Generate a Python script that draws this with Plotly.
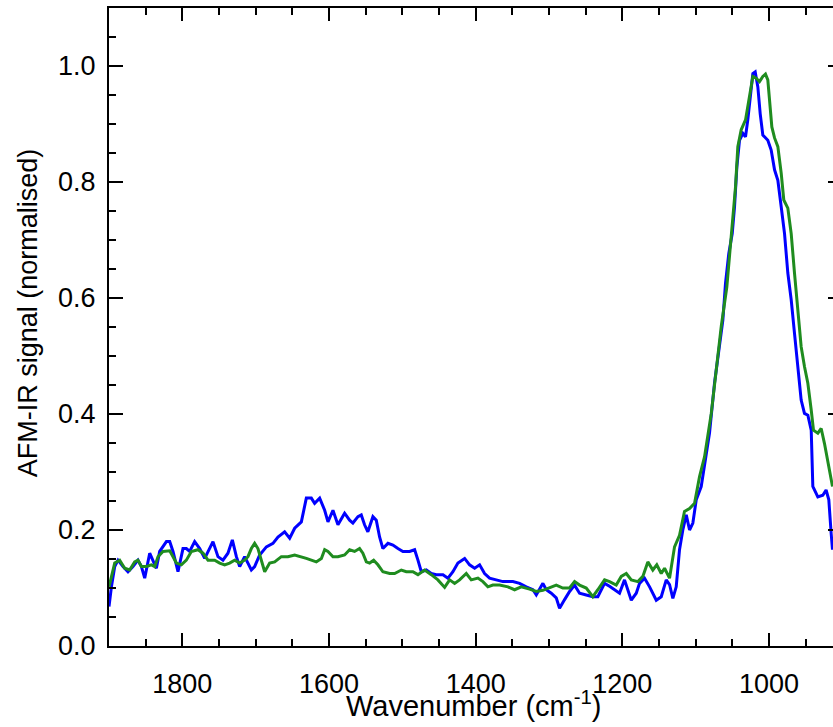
import plotly.graph_objects as go

# Wavenumber (cm^-1) and normalised AFM-IR signal
blue_wn = [1900, 1896.7, 1892.2, 1887.7, 1880.9, 1874.1, 1867.3, 1860.5, 1855.8, 1851.3,
           1844.5, 1840, 1835.4, 1830.9, 1821.7, 1817.2, 1812.7, 1805.9, 1799.1, 1794.5,
           1790, 1783.2, 1776.3, 1769.5, 1758.2, 1751.4, 1744.6, 1737.8, 1731.8, 1726.3,
           1721.8, 1715, 1705.9, 1701.4, 1694.6, 1685.4, 1676.4, 1669.6, 1660.5, 1653.6,
           1646.8, 1637.7, 1630.9, 1624.1, 1619.6, 1612.7, 1605.9, 1601.4, 1594.6, 1587.8,
           1578.7, 1571.9, 1567.4, 1560.5, 1556, 1551.5, 1547, 1540.1, 1535.5, 1531,
           1526.5, 1519.6, 1512.8, 1506, 1499.2, 1490.1, 1483.2, 1478.7, 1474.1, 1467.3,
           1460.5, 1453.7, 1444.6, 1437.8, 1431, 1424.2, 1415, 1408.3, 1401.4, 1394.6,
           1387.8, 1381, 1371.8, 1362.9, 1349.2, 1340.1, 1331, 1321.9, 1317.3, 1312.8,
           1308.3, 1303.7, 1296.9, 1290.1, 1285.6, 1278.7, 1271.9, 1265.1, 1258.3, 1249.2,
           1240.2, 1233.4, 1224.2, 1217.4, 1210.6, 1203.8, 1197, 1192.4, 1187.8, 1181,
           1176.5, 1169.7, 1162.8, 1153.7, 1146.9, 1140.1, 1135.6, 1131.1, 1126.5, 1122,
           1117.5, 1112.8, 1108.3, 1103.8, 1099.2, 1092.4, 1087.9, 1081.1, 1074.3, 1067.5,
           1062.9, 1059.3, 1054.8, 1050.1, 1047, 1043.8, 1040.2, 1035.6, 1032, 1028.9,
           1025.2, 1022, 1018.8, 1015.2, 1012, 1008.4, 1001.6, 997, 992.4, 987.9,
           983.3, 978.8, 974.3, 969.7, 965.2, 960.6, 956.1, 951.6, 947, 942.4,
           940.2, 933.4, 926.6, 922.1, 918.4, 915.2, 913.4]
blue_sig = [0.068, 0.102, 0.137, 0.148, 0.137, 0.128, 0.137, 0.148, 0.137, 0.117,
            0.160, 0.148, 0.134, 0.163, 0.180, 0.180, 0.163, 0.128, 0.168, 0.168,
            0.163, 0.180, 0.168, 0.151, 0.180, 0.154, 0.148, 0.160, 0.183, 0.154,
            0.137, 0.154, 0.131, 0.137, 0.157, 0.171, 0.177, 0.188, 0.197, 0.186,
            0.203, 0.214, 0.255, 0.255, 0.246, 0.255, 0.234, 0.214, 0.234, 0.209,
            0.229, 0.217, 0.212, 0.223, 0.226, 0.209, 0.197, 0.223, 0.217, 0.188,
            0.168, 0.177, 0.174, 0.168, 0.163, 0.163, 0.166, 0.148, 0.128, 0.131,
            0.125, 0.123, 0.123, 0.117, 0.128, 0.143, 0.151, 0.140, 0.134, 0.140,
            0.125, 0.117, 0.114, 0.111, 0.111, 0.108, 0.102, 0.097, 0.088, 0.097,
            0.108, 0.097, 0.091, 0.083, 0.065, 0.080, 0.094, 0.105, 0.091, 0.088,
            0.085, 0.085, 0.108, 0.103, 0.097, 0.091, 0.114, 0.097, 0.079, 0.091,
            0.108, 0.117, 0.102, 0.079, 0.085, 0.114, 0.106, 0.082, 0.102, 0.166,
            0.200, 0.226, 0.200, 0.212, 0.252, 0.275, 0.309, 0.367, 0.453, 0.516,
            0.562, 0.625, 0.677, 0.711, 0.757, 0.826, 0.872, 0.884, 0.878, 0.907,
            0.947, 0.987, 0.990, 0.964, 0.918, 0.881, 0.872, 0.855, 0.821, 0.803,
            0.757, 0.711, 0.643, 0.597, 0.539, 0.482, 0.424, 0.401, 0.398, 0.372,
            0.275, 0.257, 0.260, 0.269, 0.252, 0.194, 0.166]

green_wn = [1900, 1896.7, 1892.2, 1885.4, 1878.6, 1871.8, 1865, 1860.5, 1855.8, 1849,
            1842.2, 1837.7, 1833.2, 1826.4, 1817.2, 1812.7, 1808.1, 1801.3, 1794.5, 1787.7,
            1778.7, 1771.8, 1765, 1755.9, 1749.1, 1742.3, 1735.5, 1728.7, 1721.8, 1715,
            1710.5, 1705.9, 1701.4, 1696.9, 1692.2, 1687.7, 1680.9, 1674.1, 1665, 1656,
            1646.8, 1637.7, 1630.9, 1624.1, 1617.3, 1610.4, 1605.9, 1601.4, 1594.6, 1587.8,
            1578.7, 1571.9, 1565.1, 1558.3, 1553.8, 1549.1, 1544.6, 1539.1, 1533.3, 1526.5,
            1517.3, 1510.5, 1501.4, 1494.6, 1485.6, 1478.7, 1469.6, 1460.5, 1451.5, 1442.3,
            1435.5, 1428.7, 1421.9, 1412.8, 1406, 1396.9, 1390.1, 1383.3, 1376.5, 1367.4,
            1356, 1346.9, 1337.8, 1326.5, 1317.3, 1308.3, 1299.2, 1290.1, 1281.1, 1271.9,
            1265.1, 1258.3, 1249.2, 1240.2, 1233.4, 1224.2, 1217.4, 1208.3, 1201.4, 1194.6,
            1187.8, 1178.8, 1172, 1165.2, 1158.4, 1153, 1146.9, 1142.4, 1135.6, 1128.8,
            1122, 1115.2, 1108.3, 1101.5, 1094.7, 1087.9, 1078.7, 1071.9, 1065.1, 1057.5,
            1051.5, 1045.6, 1042.5, 1037.9, 1032, 1028.9, 1025.2, 1022, 1017.4, 1012.9,
            1008.4, 1004.8, 1001.6, 999.3, 996.1, 992.4, 987.9, 983.3, 979.8, 974.3,
            969.7, 965.2, 960.6, 956.1, 951.6, 947, 942.4, 939.3, 933.4, 928.8,
            924.3, 917.5, 913.4]
green_sig = [0.102, 0.120, 0.143, 0.148, 0.134, 0.131, 0.145, 0.148, 0.137, 0.137,
             0.140, 0.137, 0.154, 0.163, 0.164, 0.154, 0.143, 0.140, 0.148, 0.163,
             0.166, 0.160, 0.148, 0.148, 0.143, 0.140, 0.143, 0.148, 0.143, 0.148,
             0.154, 0.168, 0.177, 0.168, 0.148, 0.128, 0.143, 0.145, 0.154, 0.154,
             0.157, 0.154, 0.151, 0.148, 0.145, 0.151, 0.166, 0.163, 0.154, 0.154,
             0.157, 0.166, 0.163, 0.168, 0.160, 0.145, 0.143, 0.148, 0.140, 0.128,
             0.125, 0.125, 0.131, 0.128, 0.128, 0.123, 0.131, 0.123, 0.114, 0.101,
             0.114, 0.108, 0.114, 0.125, 0.114, 0.117, 0.111, 0.102, 0.105, 0.105,
             0.102, 0.097, 0.102, 0.098, 0.094, 0.096, 0.100, 0.105, 0.100, 0.100,
             0.111, 0.105, 0.100, 0.085, 0.097, 0.114, 0.111, 0.105, 0.120, 0.125,
             0.114, 0.111, 0.120, 0.145, 0.131, 0.140, 0.125, 0.134, 0.117, 0.171,
             0.191, 0.232, 0.237, 0.246, 0.292, 0.326, 0.401, 0.482, 0.551, 0.619,
             0.700, 0.792, 0.861, 0.890, 0.907, 0.930, 0.964, 0.982, 0.979, 0.973,
             0.982, 0.986, 0.976, 0.947, 0.895, 0.876, 0.861, 0.815, 0.769, 0.755,
             0.711, 0.643, 0.579, 0.516, 0.482, 0.453, 0.407, 0.372, 0.367, 0.375,
             0.349, 0.298, 0.275]

x_ticks = [1800, 1600, 1400, 1200, 1000]
y_ticks = [0.0, 0.2, 0.4, 0.6, 0.8, 1.0]

FONT = "Liberation Sans, Arial, Helvetica, sans-serif"

fig = go.Figure()
fig.add_trace(go.Scatter(x=blue_wn, y=blue_sig, mode="lines",
                         line=dict(color="#0000ff", width=3), showlegend=False))
fig.add_trace(go.Scatter(x=green_wn, y=green_sig, mode="lines",
                         line=dict(color="#1f8c1f", width=3), showlegend=False))
# empty trace to activate the right-hand tick axis
fig.add_trace(go.Scatter(x=[None], y=[None], yaxis="y2", mode="lines",
                         showlegend=False, hoverinfo="skip"))

fig.update_layout(
    width=833, height=727,
    margin=dict(l=109, r=0, t=8, b=81),
    paper_bgcolor="white", plot_bgcolor="white",
    font=dict(family=FONT, color="black", size=27),
    xaxis=dict(
        range=[1900, 912.7], tickvals=x_ticks, ticktext=[str(v) for v in x_ticks],
        ticks="inside", ticklen=13, tickwidth=2, tickcolor="black",
        showline=True, linewidth=2, linecolor="black", mirror="ticks",
        showgrid=False, zeroline=False,
        minor=dict(dtick=50, tick0=0, ticks="inside", ticklen=7, tickwidth=2,
                   tickcolor="black", showgrid=False),
        tickfont=dict(size=27), ticklabelstandoff=13,
    ),
    yaxis=dict(
        range=[0, 1.1], tickvals=y_ticks, ticktext=[f"{v:.1f}" for v in y_ticks],
        ticks="inside", ticklen=14, tickwidth=2, tickcolor="black",
        showline=True, linewidth=2, linecolor="black", mirror=False,
        showgrid=False, zeroline=False,
        minor=dict(dtick=0.05, tick0=0, ticks="inside", ticklen=7, tickwidth=2,
                   tickcolor="black", showgrid=False),
        tickfont=dict(size=27), ticklabelstandoff=6,
    ),
    yaxis2=dict(
        overlaying="y", side="right", range=[0, 1.1], tickvals=y_ticks,
        showticklabels=False, ticks="inside", ticklen=5, tickwidth=2, tickcolor="black",
        showline=False, showgrid=False, zeroline=False,
    ),
    annotations=[
        dict(text="AFM-IR signal (normalised)", textangle=-90,
             xref="paper", yref="paper", x=-0.112, y=0.523,
             xanchor="center", yanchor="middle", showarrow=False,
             font=dict(size=27, family=FONT, color="black")),
        dict(text="Wavenumber (cm<sup>-1</sup>)",
             xref="paper", yref="paper", x=0.503, y=-0.0915,
             xanchor="center", yanchor="middle", showarrow=False,
             font=dict(size=29, family=FONT, color="black")),
    ],
)

fig.write_html(
    "out.html",
    config={"displayModeBar": False},
    post_script="document.body.style.margin='0';document.body.style.overflow='hidden';",
)
